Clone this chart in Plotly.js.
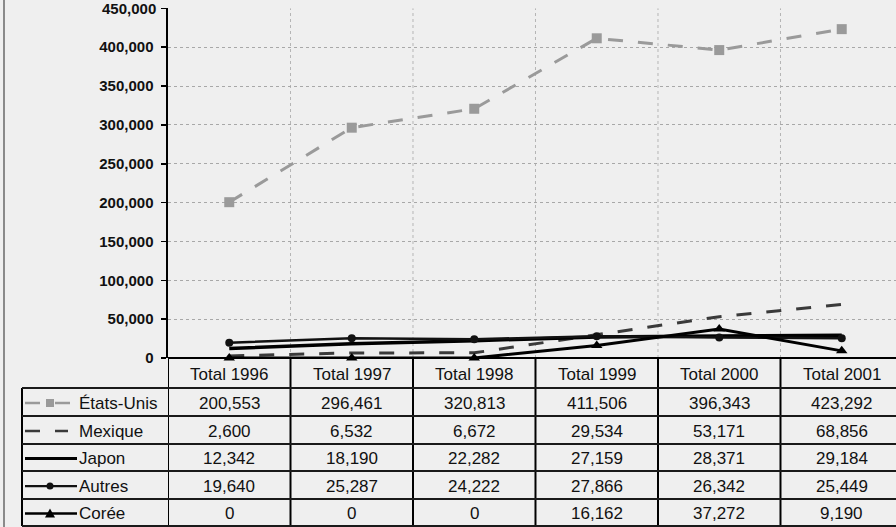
<!DOCTYPE html>
<html>
<head>
<meta charset="utf-8">
<script src="https://cdn.plot.ly/plotly-3.0.1.min.js"></script>
<style>html,body{margin:0;padding:0;background:#efefef;}#chart{width:896px;height:527px;}</style>
</head>
<body>
<div id="chart"></div>
<script>
const categories = ["Total 1996", "Total 1997", "Total 1998", "Total 1999", "Total 2000", "Total 2001"];
const seriesNames = ["États-Unis", "Mexique", "Japon", "Autres", "Corée"];
const etatsUnis = [200553, 296461, 320813, 411506, 396343, 423292];
const mexique = [2600, 6532, 6672, 29534, 53171, 68856];
const japon = [12342, 18190, 22282, 27159, 28371, 29184];
const autres = [19640, 25287, 24222, 27866, 26342, 25449];
const coree = [0, 0, 0, 16162, 37272, 9190];
const yTicks = [0, 50000, 100000, 150000, 200000, 250000, 300000, 350000, 400000, 450000];

const W = 896, H = 527;
const px = v => v / W;
const py = v => 1 - v / H;
const FONT = "Liberation Sans, Arial, sans-serif";

const allSeries = [etatsUnis, mexique, japon, autres, coree];
const styles = [
  {line: {color: "#9a9a9a", width: 3, dash: "longdash"}, mode: "lines+markers", marker: {symbol: "square", size: 10, color: "#9a9a9a"}},
  {line: {color: "#3a3a3a", width: 3, dash: "longdash"}, mode: "lines"},
  {line: {color: "#000", width: 3.5}, mode: "lines"},
  {line: {color: "#111", width: 2.5}, mode: "lines+markers", marker: {symbol: "circle", size: 8, color: "#111"}},
  {line: {color: "#000", width: 3}, mode: "lines+markers", marker: {symbol: "triangle-up", size: 10, color: "#000"}}
];

const traces = allSeries.map((ys, i) => Object.assign({
  type: "scatter", x: categories, y: ys, name: seriesNames[i], showlegend: false, hoverinfo: "skip", cliponaxis: false
}, styles[i]));

const shapes = [];
const annotations = [];

for (let i = 0; i < categories.length - 1; i++) {
  shapes.push({type: "line", xref: "x", yref: "y", x0: i + 0.5, x1: i + 0.5, y0: 0, y1: 450000,
    line: {color: "#b5b5b5", width: 1, dash: "dot"}, layer: "below"});
}

const axisY = 358, headerBottom = 388;
const rowLines = [388, 416, 444, 471, 499, 526];
const tableLeft = 22;

for (let i = 0; i <= categories.length; i++) {
  shapes.push({type: "line", xref: "x", yref: "paper", x0: i - 0.5, x1: i - 0.5, y0: py(526), y1: py(axisY),
    line: {color: "#000", width: 2}});
}
shapes.push({type: "line", xref: "paper", yref: "paper", x0: px(tableLeft), x1: px(tableLeft), y0: py(526), y1: py(headerBottom), line: {color: "#000", width: 2}});
rowLines.forEach(r => shapes.push({type: "line", xref: "paper", yref: "paper", x0: px(tableLeft), x1: 1, y0: py(r), y1: py(r), line: {color: "#1a1a1a", width: 1.8}}));
shapes.push({type: "line", xref: "paper", yref: "paper", x0: px(4), x1: px(4), y0: 0, y1: 1, line: {color: "#8a8a8a", width: 2}});

categories.forEach((c, i) => annotations.push({xref: "x", yref: "paper", x: i, y: py(374), text: c, showarrow: false,
  font: {family: FONT, size: 17, color: "#111"}, xanchor: "center", yanchor: "middle"}));

const fmt = v => v.toLocaleString("en-US");

// top tick label (Plotly drops the label at the very top edge)
const topTick = yTicks[yTicks.length - 1];
annotations.push({xref: "paper", yref: "y", x: px(158), y: topTick, text: "<b>" + fmt(topTick) + "</b>", showarrow: false,
  font: {family: FONT, size: 15, color: "#111"}, xanchor: "right", yanchor: "middle"});

seriesNames.forEach((name, r) => {
  const yc = (rowLines[r] + rowLines[r + 1]) / 2 + 1;
  annotations.push({xref: "paper", yref: "paper", x: px(77), y: py(yc), text: name, showarrow: false,
    font: {family: FONT, size: 17, color: "#111"}, xanchor: "left", yanchor: "middle"});
  allSeries[r].forEach((v, i) => annotations.push({xref: "x", yref: "paper", x: i, y: py(yc), text: fmt(v), showarrow: false,
    font: {family: FONT, size: 17, color: "#111"}, xanchor: "center", yanchor: "middle"}));
  const st = styles[r];
  const kx0 = 25, kx1 = (r === 0 ? 74 : (r === 1 ? 68 : 77));
  shapes.push({type: "line", xref: "paper", yref: "paper", x0: px(kx0), x1: px(kx1), y0: py(yc), y1: py(yc),
    line: {color: st.line.color, width: st.line.width * 0.9, dash: st.line.dash || "solid"}});
  const mx = 50;
  if (r === 0) {
    shapes.push({type: "rect", xref: "paper", yref: "paper", x0: px(mx - 4), x1: px(mx + 4), y0: py(yc + 4), y1: py(yc - 4), fillcolor: "#9a9a9a", line: {width: 0}});
  } else if (r === 3) {
    shapes.push({type: "circle", xref: "paper", yref: "paper", x0: px(mx - 3.5), x1: px(mx + 3.5), y0: py(yc + 3.5), y1: py(yc - 3.5), fillcolor: "#111", line: {width: 0}});
  } else if (r === 4) {
    shapes.push({type: "path", xref: "paper", yref: "paper",
      path: `M ${px(mx - 5)} ${py(yc + 4)} L ${px(mx + 5)} ${py(yc + 4)} L ${px(mx)} ${py(yc - 5)} Z`, fillcolor: "#000", line: {width: 0}});
  }
});

const layout = {
  width: W, height: H,
  margin: {l: 0, r: 0, t: 0, b: 0, pad: 0},
  paper_bgcolor: "#efefef", plot_bgcolor: "#efefef",
  xaxis: {domain: [px(168), 1], type: "category", range: [-0.5, 5.443], showticklabels: false, ticks: "",
    showgrid: false, zeroline: false, showline: false, fixedrange: true},
  yaxis: {domain: [py(358), py(8)], range: [0, 450500], tickvals: yTicks, tickformat: ",", ticks: "outside", ticklen: 5,
    tickwidth: 1.5, tickcolor: "#000", showline: true, linecolor: "#000", linewidth: 2.5,
    showgrid: true, gridcolor: "#a8a8a8", griddash: "dot", gridwidth: 1, zeroline: true, zerolinecolor: "#000", zerolinewidth: 2.5,
    tickfont: {family: FONT, size: 15, color: "#111", weight: "bold"}, ticklabelstandoff: 4, fixedrange: true},
  shapes: shapes,
  annotations: annotations
};

Plotly.newPlot("chart", traces, layout, {displayModeBar: false, staticPlot: true});
</script>
</body>
</html>
